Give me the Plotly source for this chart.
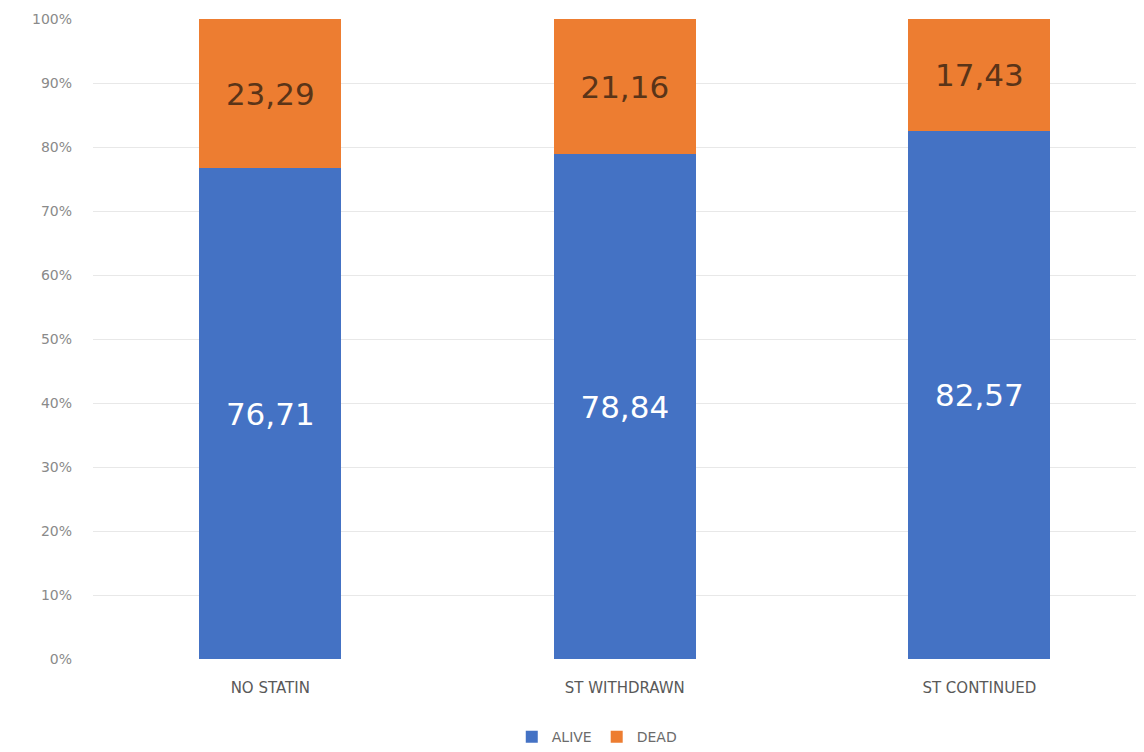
"""Stacked 100% bar: survival by statin status."""

import plotly.graph_objects as go

categories = ["NO STATIN", "ST WITHDRAWN", "ST CONTINUED"]
alive = [76.71, 78.84, 82.57]
dead = [23.29, 21.16, 17.43]
y_ticks = [0, 10, 20, 30, 40, 50, 60, 70, 80, 90, 100]

FONT = "'DejaVu Sans', sans-serif"

fig = go.Figure()
fig.add_trace(
    go.Bar(
        x=categories, y=alive, name="ALIVE",
        marker={"color": "#4472C4", "line": {"width": 0}},
        texttemplate="%{y:.2f}", textposition="inside", insidetextanchor="middle",
        textfont={"color": "#ffffff", "size": 31, "family": FONT},
    )
)
fig.add_trace(
    go.Bar(
        x=categories, y=dead, name="DEAD",
        marker={"color": "#ED7D31", "line": {"width": 0}},
        texttemplate="%{y:.2f}", textposition="inside", insidetextanchor="middle",
        textfont={"color": "#5a3418", "size": 31, "family": FONT},
    )
)

# page body adds an 8px margin, so the figure is sized to sit inside it
fig.update_layout(
    barmode="stack",
    bargap=0.6,
    separators=",.",
    width=1128, height=736,
    margin={"l": 85, "r": 0, "t": 11, "b": 85, "autoexpand": False},
    paper_bgcolor="white", plot_bgcolor="white",
    font={"family": FONT, "color": "#595959", "size": 14},
    uniformtext={"mode": "show", "minsize": 10},
    legend={
        "orientation": "h", "x": 0.483, "xanchor": "center",
        "y": -0.122, "yanchor": "middle",
        "font": {"size": 14, "color": "#6b6b6b"},
        "traceorder": "normal", "itemwidth": 30,
    },
)
fig.update_xaxes(
    range=[-0.5, 2.442], showgrid=False, showline=False, ticks="",
    tickfont={"size": 15, "color": "#595959"}, ticklabelstandoff=18,
    automargin=False,
)
fig.update_yaxes(
    range=[0, 100], tickvals=y_ticks, ticktext=[f"{v}%" for v in y_ticks],
    showgrid=True, gridcolor="#e8e8e8", gridwidth=1, zeroline=False,
    tickfont={"size": 14, "color": "#8a8a8a"}, ticklabelstandoff=20,
    automargin=False,
)

fig.write_html("out.html")
